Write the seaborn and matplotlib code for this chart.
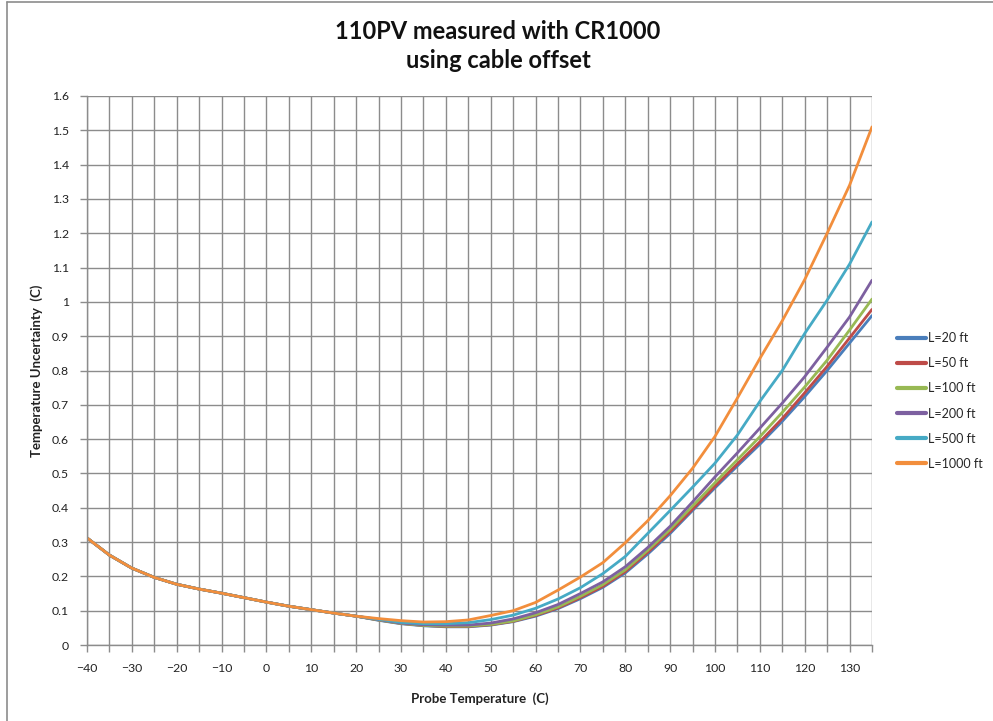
import numpy as np
import pandas as pd
import seaborn as sns
import matplotlib
matplotlib.use("Agg")
import matplotlib.pyplot as plt
from matplotlib.lines import Line2D
from matplotlib.ticker import MultipleLocator, FuncFormatter

# ---- data ----
temps = list(range(-40, 140, 5))
shared = [0.312, 0.262, 0.224, 0.197, 0.177, 0.163, 0.151, 0.138, 0.125, 0.113, 0.103, 0.093, 0.084]

l20 = [0.072, 0.062, 0.056, 0.053, 0.053, 0.058, 0.068, 0.084, 0.106, 0.135, 0.168, 0.210, 0.265,
       0.325, 0.392, 0.458, 0.522, 0.585, 0.652, 0.724, 0.800, 0.880, 0.960]
l50 = [0.073, 0.063, 0.057, 0.054, 0.054, 0.059, 0.069, 0.086, 0.108, 0.138, 0.171, 0.214, 0.270,
       0.330, 0.396, 0.463, 0.528, 0.592, 0.660, 0.735, 0.812, 0.895, 0.978]
l100 = [0.073, 0.063, 0.057, 0.055, 0.055, 0.060, 0.070, 0.088, 0.111, 0.142, 0.176, 0.219, 0.276,
        0.337, 0.405, 0.473, 0.540, 0.607, 0.678, 0.752, 0.830, 0.918, 1.008]
l200 = [0.074, 0.064, 0.059, 0.058, 0.058, 0.064, 0.076, 0.094, 0.118, 0.150, 0.184, 0.228, 0.284,
        0.346, 0.417, 0.490, 0.560, 0.632, 0.705, 0.782, 0.868, 0.956, 1.063]
l500 = [0.075, 0.066, 0.062, 0.062, 0.065, 0.074, 0.087, 0.107, 0.134, 0.167, 0.208, 0.258, 0.325,
        0.392, 0.460, 0.530, 0.612, 0.710, 0.800, 0.908, 1.005, 1.110, 1.233]
l1000 = [0.077, 0.071, 0.067, 0.068, 0.073, 0.086, 0.100, 0.124, 0.160, 0.198, 0.240, 0.298, 0.362,
         0.435, 0.515, 0.608, 0.720, 0.835, 0.945, 1.065, 1.200, 1.340, 1.510]

labels = ["L=20 ft", "L=50 ft", "L=100 ft", "L=200 ft", "L=500 ft", "L=1000 ft"]
series = [l20, l50, l100, l200, l500, l1000]
colors = ["#4A7EBB", "#BE4B48", "#98B954", "#7D60A0", "#46AAC5", "#F28E3C"]

rows = []
for lab, s in zip(labels, series):
    vals = shared + s
    for t, v in zip(temps, vals):
        rows.append({"Probe Temperature": t, "Uncertainty": v, "Cable": lab})
df = pd.DataFrame(rows)

sns.set_style("white")
plt.rcParams["font.family"] = ["Lato", "DejaVu Sans"]

fig = plt.figure(figsize=(9.93, 7.21), dpi=100)
ax = fig.add_axes([87/993, 1-645/721, (872-87)/993, (645-96)/721])

sns.lineplot(data=df, x="Probe Temperature", y="Uncertainty", hue="Cable",
             hue_order=labels, palette=colors, linewidth=2.0, ax=ax, legend=False)

ax.set_xlim(-40, 135)
ax.set_ylim(0, 1.6)
ax.xaxis.set_major_locator(MultipleLocator(10))
ax.xaxis.set_minor_locator(MultipleLocator(5))
ax.yaxis.set_major_locator(MultipleLocator(0.1))
ax.yaxis.set_major_formatter(FuncFormatter(lambda v, p: f"{round(v, 1):g}"))
ax.grid(True, which="both", color="#8c8c8c", linewidth=1.0)
ax.set_axisbelow(True)
for sp in ["top", "right"]:
    ax.spines[sp].set_visible(False)
for sp in ["left", "bottom"]:
    ax.spines[sp].set_color("#8c8c8c")
    ax.spines[sp].set_linewidth(1.0)
ax.tick_params(axis="both", which="both", direction="out", length=5, width=1,
               color="#8c8c8c", labelsize=8.8, labelcolor="#222222", left=True, bottom=True)
ax.tick_params(axis="x", pad=8)
ax.tick_params(axis="y", pad=8)

ax.set_xlabel("Probe Temperature  (C)", fontsize=9.5, fontweight="bold", labelpad=13, color="#222222")
ax.set_ylabel("Temperature Uncertainty  (C)", fontsize=9.5, fontweight="bold", labelpad=6, color="#222222")

fig.text(0.5015, 1-46/721, "110PV measured with CR1000\nusing cable offset", ha="center", va="center",
         fontsize=17, fontweight="bold", linespacing=1.35, color="#111111")

handles = [Line2D([0], [0], color=c, linewidth=3) for c in colors]
fig.legend(handles, labels, loc="center left", bbox_to_anchor=(897/993, 1-401/721),
           frameon=False, fontsize=9, handlelength=2.3, handletextpad=0.15,
           labelspacing=1.05, borderpad=0, borderaxespad=0)

# partial outer frame
fig.add_artist(Line2D([7/993, 7/993], [0, 1-2/721], transform=fig.transFigure, color="#8c8c8c", linewidth=1.2))
fig.add_artist(Line2D([7/993, 1], [1-2/721, 1-2/721], transform=fig.transFigure, color="#8c8c8c", linewidth=1.2))

fig.savefig("out.png", dpi=100)
